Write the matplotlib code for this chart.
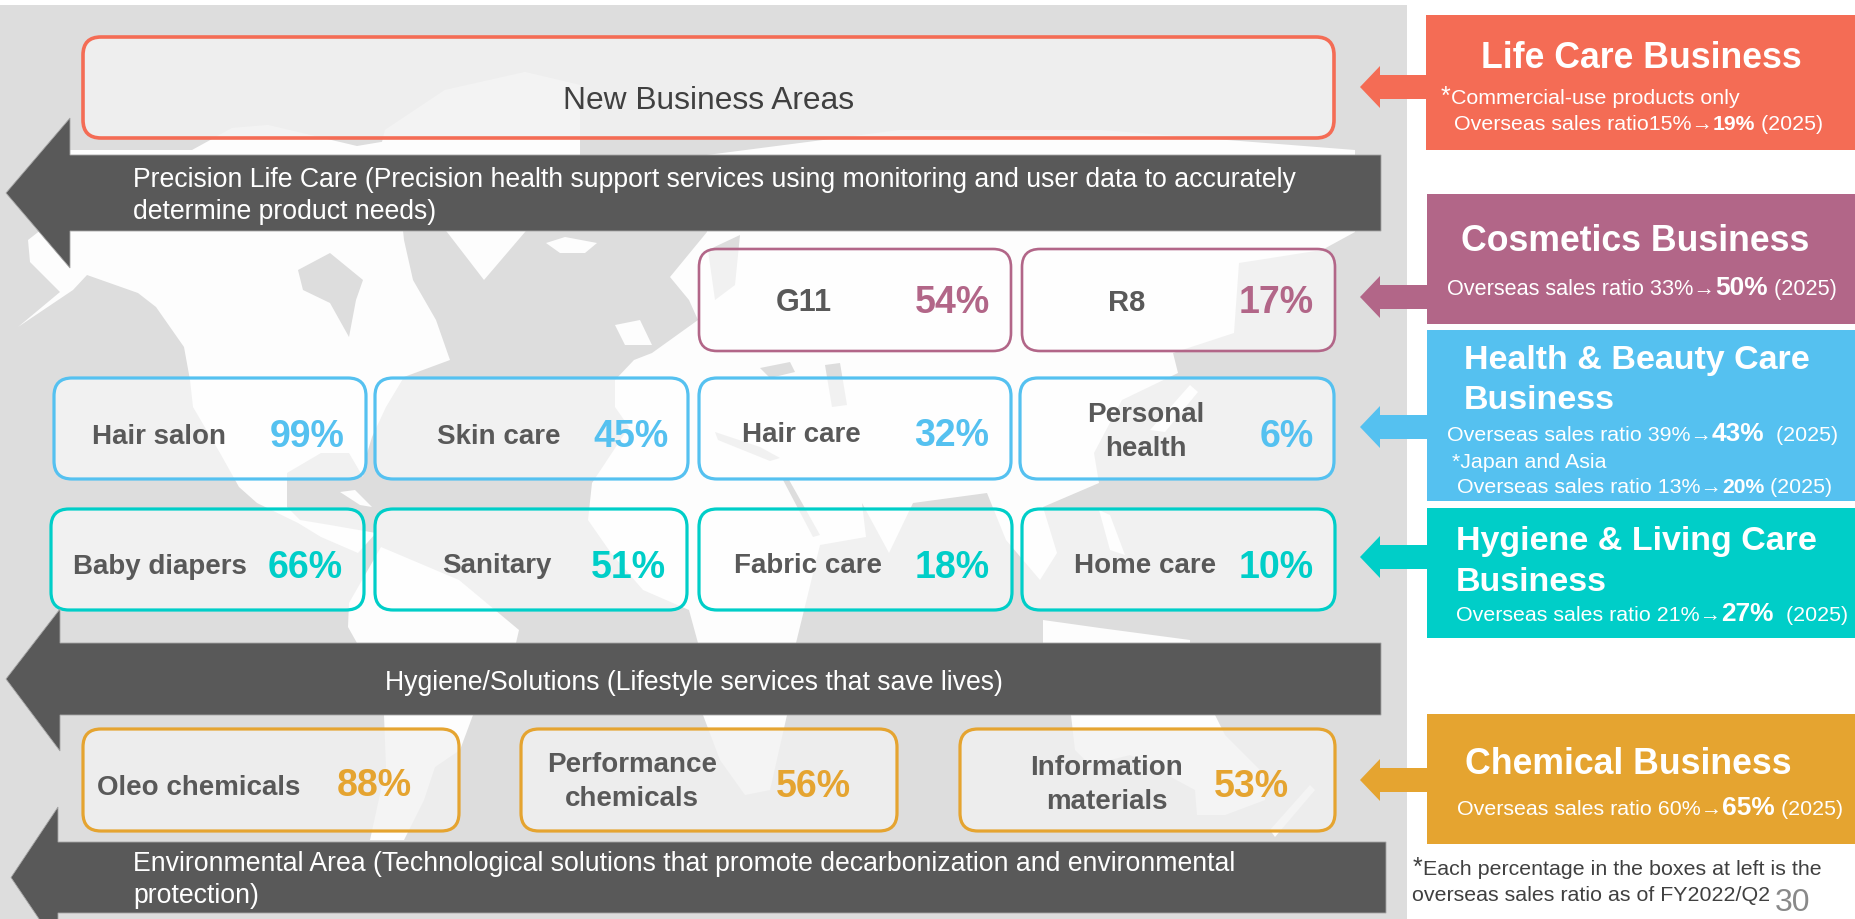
import matplotlib
matplotlib.use('Agg')
import matplotlib.pyplot as plt
from matplotlib.patches import FancyBboxPatch, Polygon, Rectangle

plt.rcParams['font.family'] = ['Liberation Sans', 'DejaVu Sans']

CORAL = '#F46C55'
PURPLE = '#B26688'
BLUE = '#55C1F0'
TEAL = '#00CEC8'
ORANGE = '#E5A430'
DARK = '#595959'
PANEL = '#DDDDDD'
LAND = '#FDFDFD'

# rounded boxes: label, percent, colour, box x0, x1, y0, y1, label x, label y, pct x, pct y
box_labels = ['G11', 'R8', 'Hair salon', 'Skin care', 'Hair care', 'Personal\nhealth',
              'Baby diapers', 'Sanitary', 'Fabric care', 'Home care',
              'Oleo chemicals', 'Performance\nchemicals', 'Information\nmaterials']
box_pcts = ['54%', '17%', '99%', '45%', '32%', '6%', '66%', '51%', '18%', '10%', '88%', '56%', '53%']
box_cols = [PURPLE, PURPLE, BLUE, BLUE, BLUE, BLUE, TEAL, TEAL, TEAL, TEAL, ORANGE, ORANGE, ORANGE]
box_x0 = [699, 1022, 54, 375, 699, 1020, 51, 375, 699, 1022, 83, 521, 960]
box_x1 = [1011, 1335, 366, 688, 1011, 1334, 364, 687, 1012, 1335, 459, 897, 1335]
box_y0 = [249, 249, 378, 378, 378, 378, 509, 509, 509, 509, 729, 729, 729]
box_y1 = [351, 351, 479, 479, 479, 479, 610, 610, 610, 610, 831, 831, 831]
label_x = [804, 1127, 159, 499, 801, 1146, 160, 497, 808, 1145, 199, 632, 1107]
label_y = [303, 303, 437, 437, 435, 432, 567, 566, 566, 566, 788, 782, 785]
label_size = [22, 21, 20, 20, 20, 20, 20, 20, 20, 20, 20, 20, 20]
pct_x = [952, 1276, 307, 631, 952, 1287, 305, 628, 952, 1276, 374, 813, 1251]
pct_y = [303, 303, 437, 437, 436, 437, 568, 568, 568, 568, 786, 787, 787]

# dark arrows: tip x, head base x, body y0, y1, right x, head y0, y1
bar_tip = [6, 6, 11]
bar_base = [70, 60, 58]
bar_y0 = [155, 643, 842]
bar_y1 = [231, 715, 913]
bar_right = [1381, 1381, 1386]
bar_head0 = [118, 609, 807]
bar_head1 = [268, 751, 947]

# right hand business panels
panel_y0 = [15, 194, 330, 508, 714]
panel_y1 = [150, 324, 501, 638, 844]
panel_x0 = [1426, 1427, 1427, 1427, 1427]
panel_cols = [CORAL, PURPLE, BLUE, TEAL, ORANGE]
arrow_mid = [87, 297, 427, 557, 780]

# rough continents
north_america = [(18, 327), (73, 290), (87, 275), (138, 293), (156, 307), (184, 347), (190, 380),
                 (193, 407), (220, 453), (239, 487), (257, 503), (298, 523), (321, 537), (358, 553),
                 (376, 533), (330, 525), (300, 520), (287, 507), (287, 473), (321, 453), (349, 453),
                 (363, 477), (365, 460), (372, 437), (386, 407), (404, 377), (450, 360), (436, 320),
                 (413, 280), (404, 240), (395, 155), (428, 150), (393, 140), (357, 146), (268, 125),
                 (232, 128), (192, 150), (70, 150), (60, 215), (28, 240), (30, 262), (60, 292)]
hudson_bay = [(298, 270), (330, 253), (363, 280), (356, 300), (349, 337), (330, 303), (303, 290)]
greenland = [(380, 150), (385, 130), (445, 90), (525, 72), (580, 85), (580, 155), (525, 232), (484, 280), (447, 232)]
iceland = [(546, 243), (565, 237), (597, 243), (585, 253), (560, 253)]
south_america = [(381, 547), (459, 580), (519, 630), (516, 643), (518, 660), (473, 715), (460, 750),
                 (435, 767), (424, 800), (404, 840), (370, 840), (386, 767), (384, 715), (357, 643),
                 (348, 627), (349, 603)]
afro_eurasia = [(707, 232), (670, 277), (689, 300), (698, 320), (652, 353), (634, 360), (615, 380),
                (615, 407), (629, 427), (592, 483), (588, 520), (611, 553), (643, 590), (689, 610),
                (698, 643), (703, 715), (720, 760), (745, 795), (770, 790), (787, 715), (796, 643),
                (820, 545), (866, 537), (862, 503), (889, 553), (913, 503), (987, 493), (1006, 540),
                (1040, 580), (1057, 553), (1043, 507), (1099, 483), (1094, 453), (1122, 400),
                (1178, 373), (1173, 353), (1234, 333), (1239, 263), (1322, 250), (1355, 232),
                (1355, 150), (1100, 130), (900, 130), (707, 155)]
mediterranean = [(715, 432), (760, 447), (780, 458), (770, 461), (718, 440)]
red_sea = [(782, 478), (788, 478), (820, 535), (813, 537)]
baltic = [(708, 250), (740, 235), (735, 285), (715, 300)]
black_sea = [(760, 368), (790, 362), (795, 372), (770, 378)]
caspian = [(825, 365), (840, 363), (847, 405), (832, 407)]
australia = [(1071, 715), (1215, 715), (1225, 735), (1265, 775), (1265, 800), (1225, 815), (1197, 815),
             (1195, 790), (1130, 755), (1090, 765), (1075, 750)]
new_zealand = [(1310, 785), (1315, 790), (1275, 837), (1270, 830)]
uk = [(615, 325), (640, 320), (652, 345), (625, 345)]
cuba = [(340, 492), (355, 490), (372, 507), (360, 505)]
indonesia = [(1043, 620), (1100, 628), (1190, 640), (1190, 643), (1043, 643)]
philippines = [(1099, 510), (1110, 515), (1125, 555), (1110, 550)]
japan = [(1190, 385), (1198, 392), (1165, 432), (1150, 430)]
land_shapes = [north_america, greenland, iceland, south_america, afro_eurasia, australia,
               new_zealand, uk, cuba, indonesia, philippines, japan]
water_shapes = [hudson_bay, mediterranean, red_sea, baltic, black_sea, caspian]

fig = plt.figure(figsize=(18.55, 9.19), dpi=100)
ax = fig.add_axes([0, 0, 1, 1])
ax.set_xlim(0, 1855)
ax.set_ylim(919, 0)
ax.axis('off')

ax.add_patch(Rectangle((0, 5), 1407, 914, fc=PANEL, ec='none', zorder=0))
for shape in land_shapes:
    ax.add_patch(Polygon(shape, closed=True, fc=LAND, ec='none', zorder=1))
for shape in water_shapes:
    ax.add_patch(Polygon(shape, closed=True, fc=PANEL, ec='none', zorder=1))
# clip anything that ran past the panel
ax.add_patch(Rectangle((1407, 0), 448, 919, fc='white', ec='none', zorder=1.5))


def rounded(x0, x1, y0, y1, col, lw=2.3, fill=(1, 1, 1, 0.6)):
    ax.add_patch(FancyBboxPatch((x0, y0), x1 - x0, y1 - y0, boxstyle='round,pad=0,rounding_size=18',
                                fc=fill, ec=col, lw=lw, zorder=2))


rounded(83, 1334, 37, 138, CORAL, 2.6, (0.95, 0.95, 0.95, 0.85))
ax.text(709, 109, 'New Business Areas', fontsize=22.9, color='#404040', ha='center', va='baseline', zorder=3)

for i in range(len(box_labels)):
    lw = 1.9 if box_cols[i] == PURPLE else 2.3
    fill = (0.95, 0.95, 0.95, 0.8) if box_cols[i] == ORANGE else (1, 1, 1, 0.6)
    rounded(box_x0[i], box_x1[i], box_y0[i], box_y1[i], box_cols[i], lw, fill)
    ax.text(label_x[i], label_y[i], box_labels[i], fontsize=label_size[i], fontweight='bold', color=DARK,
            ha='center', va='center', linespacing=1.36, zorder=3)
    ax.text(pct_x[i], pct_y[i], box_pcts[i], fontsize=27, fontweight='bold', color=box_cols[i],
            ha='center', va='center', zorder=3)

for i in range(3):
    y_mid = (bar_y0[i] + bar_y1[i]) / 2
    pts = [(bar_tip[i], y_mid), (bar_base[i], bar_head0[i]), (bar_base[i], bar_y0[i]),
           (bar_right[i], bar_y0[i]), (bar_right[i], bar_y1[i]), (bar_base[i], bar_y1[i]),
           (bar_base[i], bar_head1[i])]
    ax.add_patch(Polygon(pts, closed=True, fc=DARK, ec='#A6A6A6', lw=0.6, zorder=2.5))

BAR_FS = 19.15
ax.text(133, 187, 'Precision Life Care (Precision health support services using monitoring and user data to accurately',
        fontsize=BAR_FS, color='white', va='baseline', zorder=3)
ax.text(133, 219, 'determine product needs)', fontsize=BAR_FS, color='white', va='baseline', zorder=3)
ax.text(385, 690, 'Hygiene/Solutions (Lifestyle services that save lives)', fontsize=BAR_FS, color='white',
        va='baseline', zorder=3)
ax.text(133, 871, 'Environmental Area (Technological solutions that promote decarbonization and environmental',
        fontsize=BAR_FS, color='white', va='baseline', zorder=3)
ax.text(133, 903, 'protection)', fontsize=BAR_FS, color='white', va='baseline', zorder=3)

for i in range(5):
    ax.add_patch(Rectangle((panel_x0[i], panel_y0[i]), 1855 - panel_x0[i], panel_y1[i] - panel_y0[i],
                           fc=panel_cols[i], ec='none', zorder=2))
    m = arrow_mid[i]
    pts = [(1360, m), (1380, m - 21), (1380, m - 12), (panel_x0[i] + 1, m - 12),
           (panel_x0[i] + 1, m + 12), (1380, m + 12), (1380, m + 21)]
    ax.add_patch(Polygon(pts, closed=True, fc=panel_cols[i], ec='none', zorder=2))

renderer = fig.canvas.get_renderer()


def len_px(s, size, bold):
    # trailing spaces are not in the extent, measure them with a guard character
    t2 = ax.text(0, 0, s + '|', fontsize=size, fontweight='bold' if bold else 'normal')
    t3 = ax.text(0, 0, '|', fontsize=size, fontweight='bold' if bold else 'normal')
    w = t2.get_window_extent(renderer).width - t3.get_window_extent(renderer).width
    t2.remove()
    t3.remove()
    return w


def runs(x, y, parts, color='white'):
    # parts are (string, size, bold), drawn one after the other on one baseline
    for s, size, bold in parts:
        ax.text(x, y, s, fontsize=size, fontweight='bold' if bold else 'normal', color=color,
                ha='left', va='baseline', zorder=3)
        x += len_px(s, size, bold)


SUB = 15.4
BIG = 18.9
MID = 15.2

title_txt = ['Life Care Business', 'Cosmetics Business', 'Health & Beauty Care', 'Business',
             'Hygiene & Living Care', 'Business', 'Chemical Business']
title_x = [1481, 1461, 1464, 1464, 1456, 1456, 1465]
title_y = [68, 251, 369, 409, 550, 591, 774]
title_size = [25.7, 25.7, 24.5, 24.5, 24.5, 24.5, 25.7]
for s, x, y, fs in zip(title_txt, title_x, title_y, title_size):
    ax.text(x, y, s, fontsize=fs, fontweight='bold', color='white', va='baseline', zorder=3)

runs(1441, 104, [('*', 18, False), ('Commercial-use products only', SUB, False)])
runs(1454, 130, [('Overseas sales ratio15%→', SUB, False), ('19%', MID, True), (' (2025)', SUB, False)])
runs(1447, 295, [('Overseas sales ratio 33%→', 15.6, False), ('50%', BIG, True), (' (2025)', 15.6, False)])
runs(1447, 441, [('Overseas sales ratio 39%→', SUB, False), ('43%', BIG, True), ('  (2025)', SUB, False)])
runs(1452, 468, [('*Japan and Asia', SUB, False)])
runs(1457, 493, [('Overseas sales ratio 13%→', SUB, False), ('20%', MID, True), (' (2025)', SUB, False)])
runs(1456, 621, [('Overseas sales ratio 21%→', SUB, False), ('27%', BIG, True), ('  (2025)', SUB, False)])
runs(1457, 815, [('Overseas sales ratio 60%→', SUB, False), ('65%', BIG, True), (' (2025)', SUB, False)])

runs(1413, 875, [('*', 18, False), ('Each percentage in the boxes at left is the', 15.4, False)], color='#404040')
runs(1412, 901, [('overseas sales ratio as of FY2022/Q2', 15.4, False)], color='#404040')
ax.text(1775, 911, '30', fontsize=23, color='#898989', va='baseline', zorder=3)

fig.savefig('out.png', dpi=100)
